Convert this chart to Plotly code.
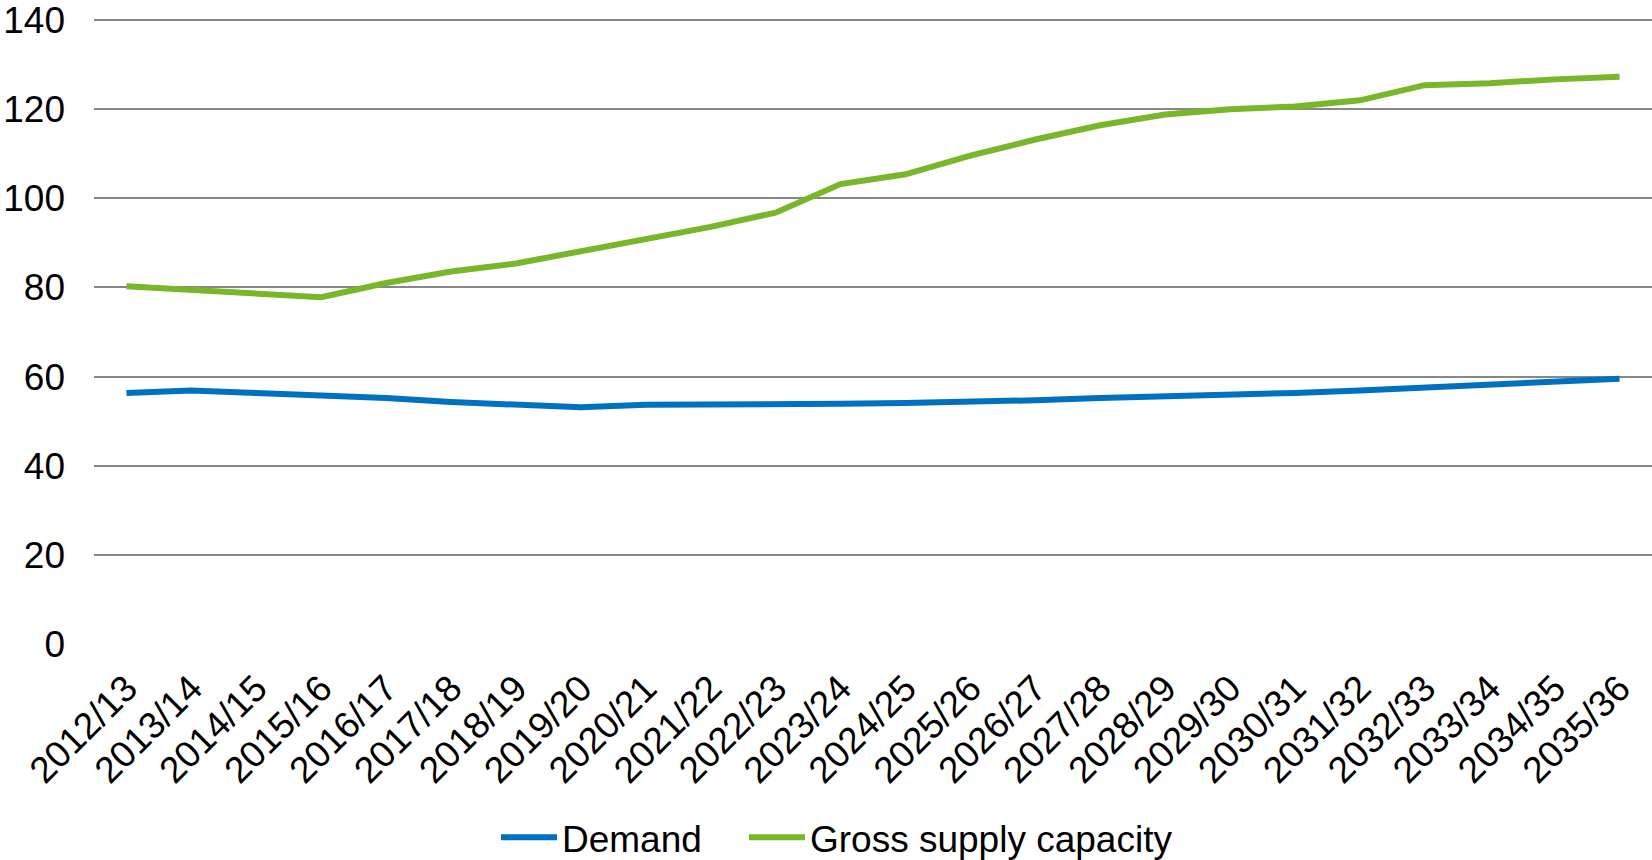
import plotly.graph_objects as go

categories = ["2012/13", "2013/14", "2014/15", "2015/16", "2016/17", "2017/18",
              "2018/19", "2019/20", "2020/21", "2021/22", "2022/23", "2023/24",
              "2024/25", "2025/26", "2026/27", "2027/28", "2028/29", "2029/30",
              "2030/31", "2031/32", "2032/33", "2033/34", "2034/35", "2035/36"]

demand = [56.3, 56.9, 56.35, 55.8, 55.2, 54.3, 53.6, 53.1, 53.7, 53.7,
          53.7, 53.9, 54.1, 54.3, 54.7, 55.2, 55.5, 55.8, 56.35, 56.9,
          57.5, 58.0, 58.7, 59.5]

supply = [80.3, 79.4, 78.5, 77.8, 81.0, 83.6, 85.4, 88.2, 90.8, 93.6,
          96.8, 103.2, 105.4, 109.6, 113.2, 116.4, 118.8, 120.0, 120.6, 122.0,
          125.4, 125.85, 126.7, 127.3]

y_ticks = [0, 20, 40, 60, 80, 100, 120, 140]

FONT = "Liberation Sans, Arial, sans-serif"

fig = go.Figure()
fig.add_trace(go.Scatter(x=categories, y=demand, mode="lines", name="Demand",
                         line=dict(color="#0070C0", width=6), legend="legend"))
fig.add_trace(go.Scatter(x=categories, y=supply, mode="lines", name="Gross supply capacity",
                         line=dict(color="#78B72A", width=6), legend="legend2"))

leg_common = dict(orientation="h", xanchor="left", xref="container",
                  yref="container", y=0.026, yanchor="middle",
                  font=dict(size=37), itemwidth=56, bgcolor="rgba(0,0,0,0)")

fig.update_layout(
    width=1652, height=860,
    margin=dict(l=94, r=0, t=17, b=216),
    paper_bgcolor="white", plot_bgcolor="white",
    font=dict(family=FONT, size=37, color="black"),
    showlegend=True,
    legend=dict(x=496 / 1652, **leg_common),
    legend2=dict(x=744 / 1652, **leg_common),
    xaxis=dict(type="category", range=[-0.5, len(categories) - 0.5],
               tickangle=-45, showgrid=False, showline=False, ticks="",
               ticklabelstandoff=14, tickfont=dict(size=37)),
    yaxis=dict(range=[0, 140.25], tickvals=y_ticks, showgrid=True,
               gridcolor="#878787", gridwidth=1.8, zeroline=False,
               showline=False, ticks="", ticklabelstandoff=28,
               ticklabeloverflow="allow", tickfont=dict(size=37)),
)

fig.write_html("out.html")
